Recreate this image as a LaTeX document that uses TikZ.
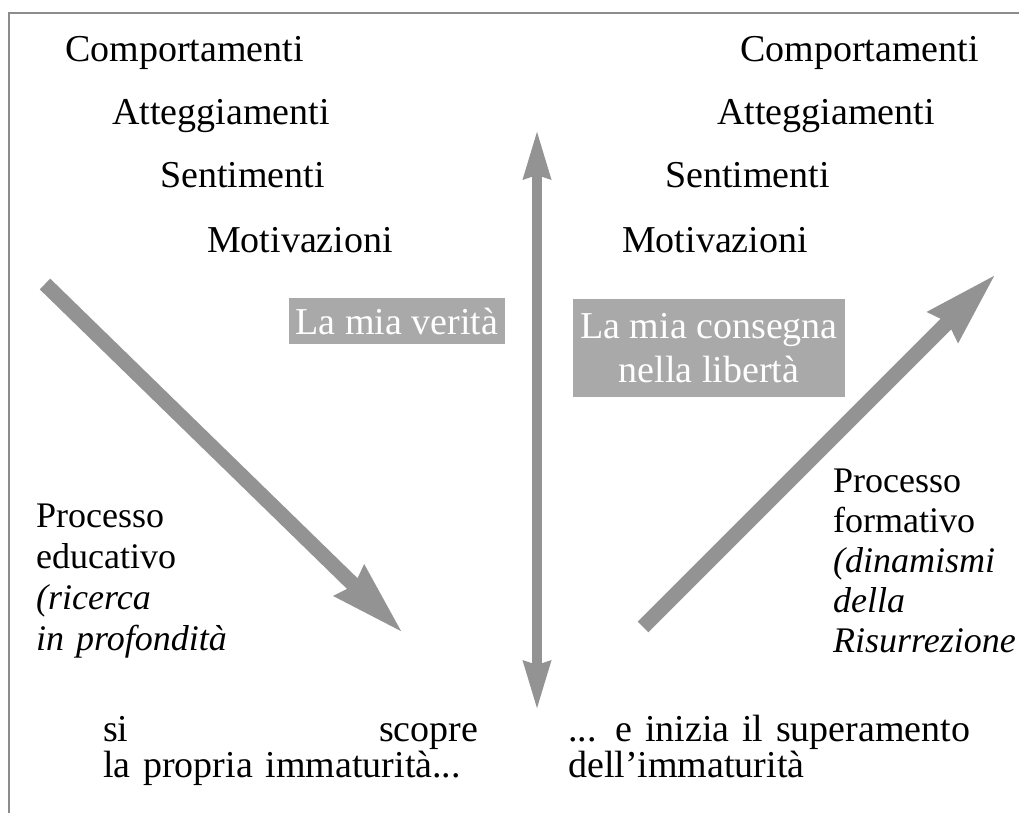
\documentclass[tikz,border=0pt]{standalone}
\usepackage{fontspec}
\setmainfont{Liberation Serif}
\usetikzlibrary{arrows.meta, positioning}
\definecolor{cgrey}{HTML}{939393}
\definecolor{cbox}{HTML}{A9A9A9}
\definecolor{cframe}{HTML}{8C8C8C}
\tikzset{
  lbl/.style={inner sep=0pt, anchor=base west, align=left, font=\fontsize{38}{40}\selectfont},
  tag/.style={fill=cbox, text=white, inner xsep=7pt, inner ysep=10pt, align=center, font=\fontsize{38}{44}\selectfont},
  diag/.style={draw=cgrey, line width=15pt, -{Stealth[length=73pt, width=40pt, inset=5pt]}},
  vert/.style={draw=cgrey, line width=10pt, {Stealth[length=48pt, width=26pt, inset=3pt]}-{Stealth[length=48pt, width=26pt, inset=3pt]}},
}

\begin{document}
\begin{tikzpicture}[x=1pt, y=-1pt]
  \useasboundingbox (0,0) rectangle (1019,813);
  \draw[cframe, line width=1.5pt] (9,813) -- (9,13) -- (1019,13);
  % left stack
  \node[lbl] (lcomp) at (65,62) {Comportamenti};
  \node[lbl] (latt) at (112,125) {Atteggiamenti};
  \node[lbl] (lsent) at (160,188) {Sentimenti};
  \node[lbl] (lmot) at (207,252) {Motivazioni};
  % right stack
  \node[lbl] (rcomp) at (740,62) {Comportamenti};
  \node[lbl] (ratt) at (717,125) {Atteggiamenti};
  \node[lbl] (rsent) at (665,188) {Sentimenti};
  \node[lbl] (rmot) at (622,252) {Motivazioni};
  % grey labels
  \node[tag] (verita) at (397,321) {La mia verità};
  \node[tag, inner ysep=14pt] (consegna) at (709,348) {La mia consegna\\nella libertà};
  % processes
  \node[lbl, text width=220pt, font=\fontsize{36}{41}\selectfont] (educ) at (36,527)
    {Processo\\educativo\\\textit{(ricerca}\\\textit{in profondità}};
  \node[lbl, text width=186pt, font=\fontsize{36}{40}\selectfont] (form) at (833,492)
    {Processo\\formativo\\\textit{(dinamismi}\\\textit{della}\\\textit{Risurrezione}};
  % bottom lines
  \node[lbl, text width=375pt, font=\fontsize{38}{36}\selectfont] (scopre) at (103,741)
    {si\hfill scopre\\la propria immaturità...};
  \node[lbl, text width=420pt, font=\fontsize{38}{36}\selectfont] (inizia) at (568,741)
    {... e inizia il superamento\\dell'immaturità};
  % arrows
  \coordinate (dl0) at (45,284);
  \coordinate (dl1) at (403,633);
  \coordinate (dr0) at (643,627);
  \coordinate (dr1) at (996,274);
  \coordinate (vtop) at (537,130);
  \coordinate (vbot) at (537,710);
  \draw[diag] (dl0) -- (dl1);
  \draw[diag] (dr0) -- (dr1);
  \draw[vert] (vbot) -- (vtop);
\end{tikzpicture}
\end{document}
